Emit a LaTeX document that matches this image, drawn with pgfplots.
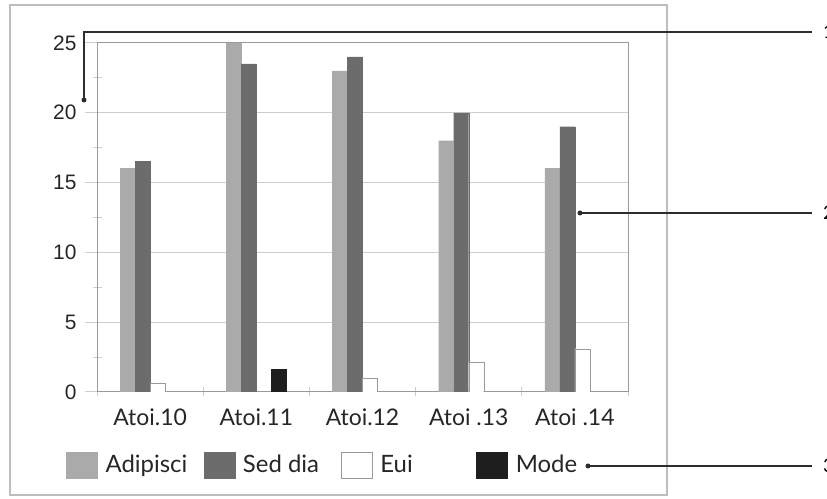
\documentclass[border=0pt]{standalone}
\usepackage{pgfplots}
\pgfplotsset{compat=1.18}
\usepackage{fontspec}
\setmainfont{Lato}
\newfontfamily\numfont{Liberation Sans}
\definecolor{cA}{RGB}{170,170,170}
\definecolor{cB}{RGB}{108,108,108}
\definecolor{cD}{RGB}{30,30,30}
\definecolor{gridc}{RGB}{205,205,205}
\definecolor{framec}{RGB}{190,190,190}
\definecolor{annc}{RGB}{45,45,45}
\begin{document}
\begin{tikzpicture}[x=1bp,y=1bp]
\path[use as bounding box] (0,0) rectangle (827,499);
\draw[framec, line width=1.5bp] (10,4) rectangle (667,494);
\begin{axis}[
  at={(97bp,107bp)}, anchor=south west,
  width=531bp, height=349bp, scale only axis,
  xmin=-0.5, xmax=4.5, ymin=0, ymax=25,
  ybar=0pt, bar width=15bp,
  xtick={0,1,2,3,4},
  xticklabels={Atoi.10,Atoi.11,Atoi.12,Atoi .13,Atoi .14},
  major x tick style={draw=none},
  minor xtick={-0.5,0.5,1.5,2.5,3.5,4.5},
  ytick={0,5,10,15,20,25},
  minor ytick={2.5,7.5,12.5,17.5,22.5},
  xtick pos=bottom, ytick pos=left,
  tick align=center,
  major tick length=24bp, minor tick length=9bp,
  tick style={gridc, line width=1bp},
  ymajorgrids, major grid style={gridc, line width=1bp},
  axis line style={draw=black!40, line width=1bp},
  yticklabel style={font=\numfont\fontsize{21}{24}\selectfont, text=black!85, xshift=-5bp},
  xticklabel style={font=\fontsize{23}{26}\selectfont, text=black!85, yshift=-1bp},
  /pgf/number format/assume math mode=true,
  legend style={at={(-0.0584,-0.209)}, anchor=west, draw=none, fill=none,
    inner sep=0pt, font=\fontsize{24}{28}\selectfont, text=black!85,
    /tikz/every odd column/.append style={column sep=8bp},
    nodes={inner sep=0pt}},
  legend columns=4,
  legend cell align=left,
  legend image code/.code={\draw[#1] (0bp,-13bp) rectangle (31bp,13bp);},
]
\addplot[fill=cA, draw=cA] coordinates {(0,16) (1,25) (2,23) (3,18) (4,16)};
\addlegendentry{\makebox[98bp][l]{Adipisci}}
\addplot[fill=cB, draw=cB] coordinates {(0,16.5) (1,23.5) (2,24) (3,20) (4,19)};
\addlegendentry{\makebox[98bp][l]{Sed dia}}
\addplot[fill=white, draw=black!40] coordinates {(0,0.6) (2,1) (3,2.1) (4,3.1)};
\addlegendentry{\makebox[96bp][l]{Eui}}
\addplot[fill=cD, draw=cD] coordinates {(1,1.6)};
\addlegendentry{Mode}
\end{axis}
\draw[annc, line width=1.5bp] (812,467) -- (84,467) -- (84,399);
\fill[annc] (84,399) circle (2.5bp);
\draw[annc, line width=1.5bp] (812,286) -- (580,286);
\fill[annc] (580,286) circle (2.5bp);
\draw[annc, line width=1.5bp] (812,33) -- (588,33);
\fill[annc] (588,33) circle (2.5bp);
\node[anchor=west, inner sep=0pt, font=\fontsize{19}{22}\selectfont] at (823,467) {1};
\node[anchor=west, inner sep=0pt, font=\fontsize{19}{22}\selectfont] at (823,286) {2};
\node[anchor=west, inner sep=0pt, font=\fontsize{19}{22}\selectfont] at (823,33) {3};
\end{tikzpicture}
\end{document}
